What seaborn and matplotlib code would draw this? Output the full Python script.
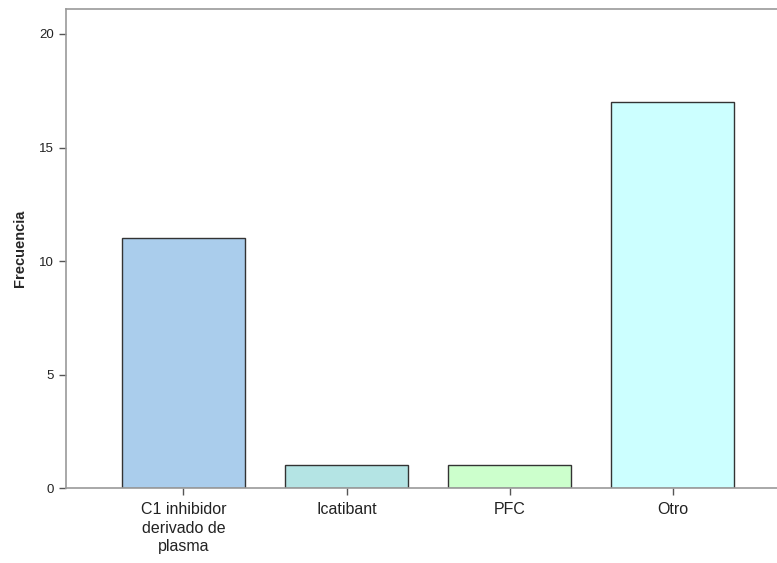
import pandas as pd
import seaborn as sns
import matplotlib.pyplot as plt

categories = ["C1 inhibidor\nderivado de\nplasma", "Icatibant", "PFC", "Otro"]
counts = [11, 1, 1, 17]
bar_colors = ["#aacdec", "#b4e4e4", "#ccffcc", "#ccffff"]

df = pd.DataFrame({"cat": categories, "n": counts})

sns.set_style("white")
plt.rcParams["font.family"] = ["Liberation Sans", "DejaVu Sans"]

fig = plt.figure(figsize=(7.77, 5.63), dpi=100)
ax = fig.add_axes([0.085, 0.133, 0.915, 0.851])

sns.barplot(data=df, x="cat", y="n", hue="cat", palette=bar_colors, legend=False,
            width=0.75, edgecolor="#333333", linewidth=1, ax=ax, saturation=1)

ax.set_xlim(-0.72, 3.64)
ax.set_ylim(0, 21.1)
ax.set_yticks([0, 5, 10, 15, 20])
ax.tick_params(axis="both", length=5, width=1, color="#555555", direction="out",
               labelcolor="#222222")
ax.tick_params(axis="y", labelsize=9.5)
ax.tick_params(axis="x", labelsize=11.5, pad=5)
ax.tick_params(left=True, bottom=True)
for lbl in ax.get_xticklabels():
    lbl.set_linespacing(1.3)

ax.set_xlabel("")
ax.set_ylabel("Frecuencia", fontsize=10.5, fontweight="bold", labelpad=9)

for side in ["left", "bottom", "top"]:
    ax.spines[side].set_color("#999999")
    ax.spines[side].set_linewidth(1.2)
ax.spines["right"].set_visible(False)

fig.savefig("out.png", dpi=100)
